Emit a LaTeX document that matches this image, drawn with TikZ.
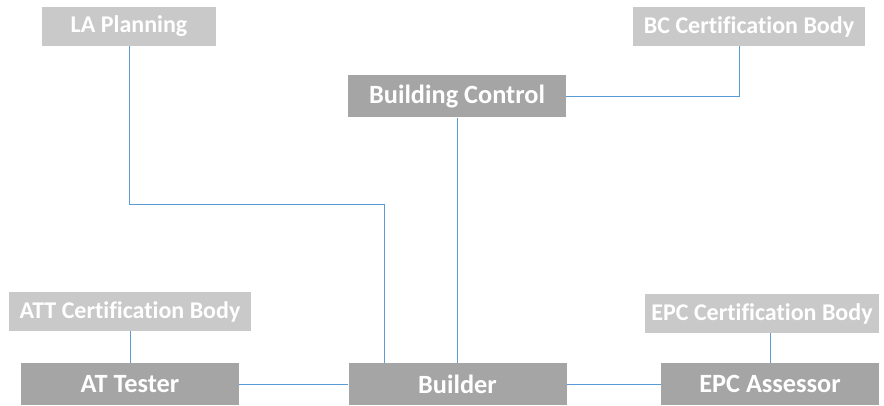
\documentclass[tikz,border=0pt]{standalone}
\usepackage{fontspec}
\setmainfont[Ligatures=NoCommon]{Carlito}
\usetikzlibrary{positioning}
\definecolor{boxlight}{RGB}{201, 201, 201}
\definecolor{boxdark}{RGB}{165, 165, 165}
\definecolor{linkblue}{RGB}{91, 155, 213}

\begin{document}
\begin{tikzpicture}[
        x=0.75pt, y=-0.75pt,
        body/.style={rectangle, fill=boxlight, inner sep=0pt, minimum height=29.25pt, text=white, font=\fontsize{18}{21}\selectfont\bfseries},
        party/.style={rectangle, fill=boxdark, inner sep=0pt, minimum width=163.5pt, minimum height=31.5pt, text=white, font=\fontsize{19.75}{23}\selectfont\bfseries},
        link/.style={draw=linkblue, line width=0.75pt}
    ]
        \useasboundingbox (0,0) rectangle (884,406);

        % Authorities
        \node[body, minimum width=130.5pt] (plan) at (129,26.5) {LA Planning};
        \node[body, minimum width=174pt] (bccert) at (749,26.5) {BC Certification Body};
        \node[party] (bc) at (457,96.5) {Building Control};

        % Certification bodies
        \node[body, minimum width=181.5pt] (attcert) at (130,311.5) {ATT Certification Body};
        \node[body, minimum width=175.5pt] (epccert) at (762,313.5) {EPC Certification Body};

        % Site parties
        \node[party] (tester) at (130,384) {AT Tester};
        \node[party] (builder) at (457.5,384) {Builder};
        \node[party] (assessor) at (770,384) {EPC Assessor};

        % Links
        \coordinate (bend) at (384,204);
        \draw[link] (plan) |- (bend) -- (bend |- builder.north);
        \draw[link] (bc.south) -- (bc.south |- builder.north);
        \draw[link] (bc) -| ([xshift=-7.5pt]bccert.south);
        \draw[link] (attcert.south) -- (attcert.south |- tester.north);
        \draw[link] (tester) -- (builder);
        \draw[link] (builder) -- (assessor);
        \draw[link] (epccert.south -| assessor.north) -- (assessor.north);
    \end{tikzpicture}
\end{document}
